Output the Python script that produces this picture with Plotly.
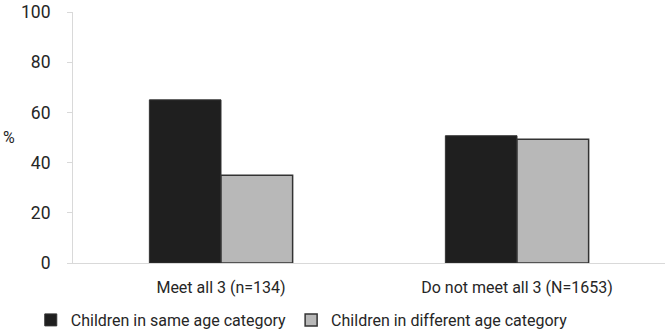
import plotly.graph_objects as go

categories = ["Meet all 3 (n=134)", "Do not meet all 3 (N=1653)"]
same_age = [65.0, 50.7]
diff_age = [35.0, 49.3]
series_names = ["Children in same age category", "Children in different age category"]
y_ticks = [0, 20, 40, 60, 80, 100]

FONT = "Roboto, sans-serif"
fig = go.Figure()
fig.add_trace(go.Bar(x=categories, y=same_age, name=series_names[0],
                     marker=dict(color="#1f1f1f", line=dict(color="#333333", width=1))))
fig.add_trace(go.Bar(x=categories, y=diff_age, name=series_names[1],
                     marker=dict(color="#b8b8b8", line=dict(color="#333333", width=1.5))))

fig.update_layout(
    width=669, height=333,
    margin=dict(l=73, r=4, t=12, b=70, autoexpand=False),
    plot_bgcolor="white", paper_bgcolor="white",
    barmode="group", bargap=0.516, bargroupgap=0,
    font=dict(family=FONT, size=16, color="#262626"),
    showlegend=True,
    legend=dict(orientation="h", x=0.046, xanchor="left", xref="container",
                y=-0.227, yanchor="middle", yref="paper",
                font=dict(size=16), itemwidth=30, traceorder="normal"),
    xaxis=dict(showline=True, linecolor="#d9d9d9", linewidth=1, ticks="",
               showgrid=False, tickfont=dict(size=16), automargin=False,
               ticklabelstandoff=10),
    yaxis=dict(range=[0, 100], tickvals=y_ticks, showline=True, linecolor="#d9d9d9",
               linewidth=1, ticks="outside", ticklen=5, tickcolor="#d9d9d9",
               showgrid=False, zeroline=False, tickfont=dict(size=17.5),
               ticklabelstandoff=13, automargin=False),
    annotations=[dict(text="%", xref="paper", yref="paper", x=-0.121, y=0.5,
                      xanchor="left", yanchor="middle", showarrow=False,
                      font=dict(size=16))],
)
fig.write_html("out.html", config={"displayModeBar": False},
               post_script="document.body.style.margin='0';")
